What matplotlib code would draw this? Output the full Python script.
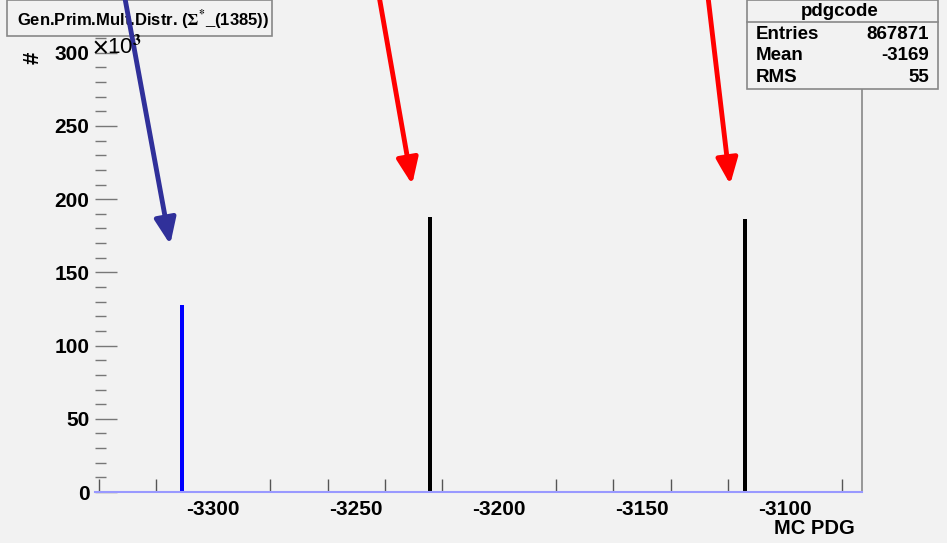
import matplotlib
matplotlib.use("Agg")
import matplotlib.pyplot as plt
from matplotlib.patches import Rectangle
from matplotlib.lines import Line2D
from matplotlib.ticker import MultipleLocator

# histogram content (counts in units of 10^3)
pdg_codes = [-3311, -3224, -3114]
counts = [128.0, 188.0, 186.5]
bar_colors = ["#0000ff", "#000000", "#000000"]

x_label_ticks = [-3300, -3250, -3200, -3150, -3100]
stats_rows = [("Entries", "867871"), ("Mean", "-3169"), ("RMS", "55")]

# arrows: (start x, start y) -> (tip x, tip y) in data units, colour
arrows = [
    ((-3331.0, 339.0), (-3315.0, 169.0), "#30309a"),
    ((-3242.0, 339.0), (-3230.4, 210.0), "#ff0000"),
    ((-3127.0, 339.0), (-3119.2, 210.0), "#ff0000"),
]

W, H = 947, 543
BG = "#f2f2f2"

plt.rcParams["font.family"] = ["Liberation Sans", "DejaVu Sans"]
plt.rcParams["font.weight"] = "bold"
plt.rcParams["mathtext.fontset"] = "stix"


def fx(x):
    return x / W


def fy(y):
    return 1 - y / H


fig = plt.figure(figsize=(W / 100, H / 100), dpi=100, facecolor=BG)
ax = fig.add_axes([fx(95), fy(492), fx(862) - fx(95), fy(0) - fy(492)])
ax.set_facecolor(BG)

ax.bar(pdg_codes, counts, width=1.4, color=bar_colors, zorder=2)

ax.set_xlim(-3341.3, -3073.1)
ax.set_ylim(0, 336)

for side in ["left", "top"]:
    ax.spines[side].set_visible(False)
ax.spines["bottom"].set_color("#9999ff")
ax.spines["bottom"].set_linewidth(1.5)
ax.spines["right"].set_color("#888888")
ax.spines["right"].set_linewidth(1.2)

# x axis: labels every 50 (no tick), tick marks every 20, taller every 100
ax.set_xticks(x_label_ticks)
ax.set_xticklabels([str(v) for v in x_label_ticks])
ax.xaxis.set_minor_locator(MultipleLocator(20))
ax.tick_params(axis="x", which="major", direction="in", length=0, pad=6,
               labelsize=15, colors="#555555", labelcolor="black")
ax.tick_params(axis="x", which="minor", direction="in", length=4.3,
               width=1, colors="#555555")
for t in ax.xaxis.get_minor_ticks():
    if abs(t.get_loc() % 100) < 1e-6:
        t.tick1line.set_markersize(9.4)

# y axis
ax.yaxis.set_major_locator(MultipleLocator(50))
ax.yaxis.set_minor_locator(MultipleLocator(10))
ax.tick_params(axis="y", which="major", direction="in", length=16, width=1,
               colors="#777777", labelcolor="black", labelsize=15, pad=4)
ax.tick_params(axis="y", which="minor", direction="in", length=8, width=1,
               colors="#777777")
ax.set_yticks([0, 50, 100, 150, 200, 250, 300])

fig.text(fx(92), fy(46), r"$\times$10$^{3}$", fontsize=16, ha="left",
         va="center", fontweight="normal")
fig.text(fx(33), fy(58), "#", fontsize=16, rotation=90, ha="center",
         va="center")
fig.text(fx(855), fy(528), "MC PDG", fontsize=14.5, ha="right", va="center")

# title box
ax.add_patch(Rectangle((fx(7), fy(36)), fx(272) - fx(7), fy(0) - fy(36),
                       transform=fig.transFigure, facecolor=BG,
                       edgecolor="#888888", lw=1.2, clip_on=False, zorder=5))
ax.text(fx(17), fy(20), r"Gen.Prim.Mult.Distr. ($\Sigma^{*}$_(1385))",
        transform=fig.transFigure, fontsize=12, ha="left", va="center",
        zorder=6)

# stats box
ax.add_patch(Rectangle((fx(747), fy(89)), fx(938) - fx(747), fy(0) - fy(89),
                       transform=fig.transFigure, facecolor=BG,
                       edgecolor="#888888", lw=1.2, clip_on=False, zorder=5))
ax.add_line(Line2D([fx(747), fx(938)], [fy(22), fy(22)],
                   transform=fig.transFigure, color="#888888", lw=1.2,
                   clip_on=False, zorder=6))
ax.text(fx(840), fy(11), "pdgcode", transform=fig.transFigure, fontsize=13.5,
        ha="center", va="center", zorder=6)
for i, (name, val) in enumerate(stats_rows):
    y = fy(34 + 22 * i)
    ax.text(fx(756), y, name, transform=fig.transFigure, fontsize=13.5,
            ha="left", va="center", zorder=6)
    ax.text(fx(929), y, val, transform=fig.transFigure, fontsize=13.5,
            ha="right", va="center", zorder=6)

for start, tip, col in arrows:
    ax.annotate("", xy=tip, xytext=start, annotation_clip=False, zorder=10,
                arrowprops=dict(arrowstyle="-|>,head_length=1.2,head_width=0.5",
                                mutation_scale=13, lw=3.5, color=col,
                                shrinkA=0, shrinkB=0))

fig.savefig("out.png", dpi=100, facecolor=BG)
